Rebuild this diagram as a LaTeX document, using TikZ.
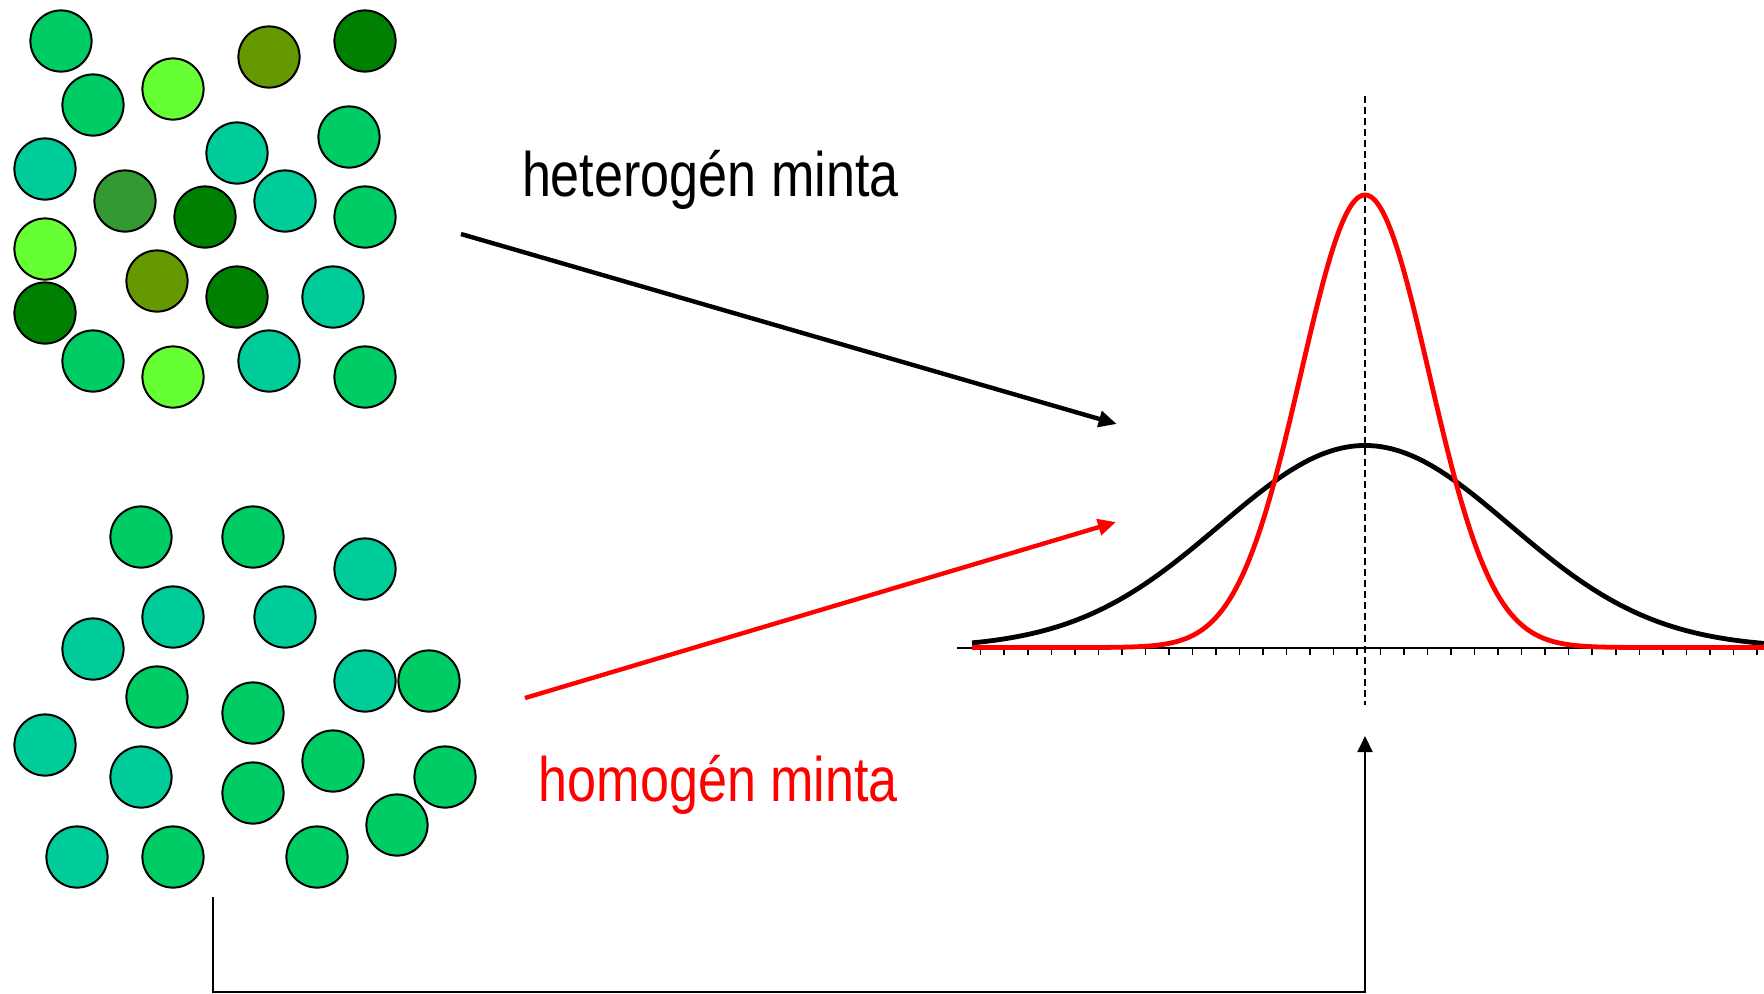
\documentclass[tikz,border=0pt]{standalone}
\usepackage{fontspec}
\newfontfamily\narrowsf[FakeStretch=0.83]{Liberation Sans}
\usetikzlibrary{arrows.meta}
\definecolor{grnA}{HTML}{00CC66}
\definecolor{grnB}{HTML}{00CC99}
\definecolor{grnC}{HTML}{66FF33}
\definecolor{grnD}{HTML}{669900}
\definecolor{grnE}{HTML}{008000}
\definecolor{grnF}{HTML}{339933}

\begin{document}
\begin{tikzpicture}[x=0.5pt, y=-0.5pt,
    ball/.style={draw=black, line width=1pt},
    label/.style={font=\narrowsf\fontsize{31.4}{36}\selectfont, anchor=base west, inner sep=0pt},
    bigarrow/.style={line width=2.2pt, -{Triangle[length=9pt, width=8pt]}}]
        \useasboundingbox (0,0) rectangle (1764,993);

        % heterogen sample
        \foreach \x/\y/\c in {61/41/grnA, 93/105/grnA, 173/89/grnC, 269/57/grnD, 365/41/grnE,
            45/169/grnB, 237/153/grnB, 349/137/grnA, 125/201/grnF, 205/217/grnE,
            285/201/grnB, 365/217/grnA, 45/249/grnC, 157/281/grnD, 237/297/grnE,
            333/297/grnB, 45/313/grnE, 93/361/grnA, 173/377/grnC, 269/361/grnB, 365/377/grnA}
            \filldraw[ball, fill=\c] (\x,\y) circle[radius=15.3pt];

        % homogen sample
        \foreach \x/\y/\c in {141/537/grnA, 253/537/grnA, 365/569/grnB, 173/617/grnB, 285/617/grnB,
            93/649/grnB, 157/697/grnA, 253/713/grnA, 365/681/grnB, 429/681/grnA,
            45/745/grnB, 141/777/grnB, 253/793/grnA, 333/761/grnA, 445/777/grnA,
            397/825/grnA, 77/857/grnB, 173/857/grnA, 317/857/grnA}
            \filldraw[ball, fill=\c] (\x,\y) circle[radius=15.3pt];

        % labels
        \node[label] (het) at (521.6,196.7) {heterogén minta};
        \node[label, text=red] (hom) at (538.3,801) {homogén minta};

        % arrows to the plot
        \coordinate (hetfrom) at (461,234);
        \coordinate (hetto) at (1116.7,424);
        \coordinate (homfrom) at (525,698);
        \coordinate (homto) at (1116,522);
        \draw[bigarrow] (hetfrom) -- (hetto);
        \draw[bigarrow, red] (homfrom) -- (homto);

        % axis and ticks
        \draw[line width=0.75pt] (957,648) -- (1764,648);
        \foreach \k in {0,...,33}
            \draw[line width=0.75pt] (980.7+23.52*\k,648) -- ++(0,7);

        % mean
        \draw[line width=1pt, dash pattern=on 3.5pt off 2pt] (1365,96) -- (1365,705);

        % distributions
        \draw[line width=2.4pt, line join=round] plot[domain=-3.93:3.99, samples=241, smooth]
            ({1365+100*\x}, {648-202.5*exp(-(\x*\x)/(2*1.45*1.45))});
        \draw[red, line width=2.4pt, line join=round] plot[domain=-3.93:3.99, samples=241, smooth]
            ({1365+100*\x}, {647.5-452.5*exp(-(\x*\x)/(2*0.64*0.64))});

        % back to the mean
        \coordinate (sampleout) at (213,897);
        \coordinate (corner) at (213,992);
        \coordinate (meanin) at (1365,736);
        \draw[line width=1.1pt, -{Triangle[length=8pt, width=7.5pt]}] (sampleout) -- (corner) -| (meanin);
      \end{tikzpicture}
\end{document}
